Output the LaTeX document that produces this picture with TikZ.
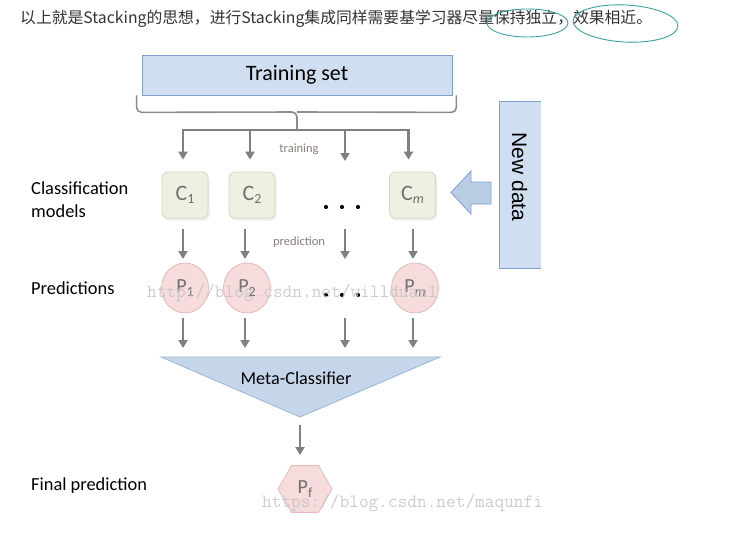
\documentclass[tikz,border=0pt]{standalone}
\usepackage{fontspec}
\setmainfont{Carlito}
\newfontfamily\cjk{Noto Sans CJK SC}
\newfontfamily\arialf{Liberation Sans}
\usetikzlibrary{arrows.meta,shapes.geometric}
\definecolor{bluefill}{HTML}{CFDFF1}
\definecolor{blueline}{HTML}{7F9FCF}
\definecolor{arrfill}{HTML}{B9CDE5}
\definecolor{trifill}{HTML}{C6D6EA}
\definecolor{triline}{HTML}{9AB6DA}
\definecolor{cfill}{HTML}{EEF0E2}
\definecolor{cline}{HTML}{D5D9C0}
\definecolor{pfill}{HTML}{F6DCDC}
\definecolor{pline}{HTML}{E9B9B9}
\definecolor{arrgray}{HTML}{808080}
\definecolor{lblgray}{HTML}{707070}
\definecolor{smallgray}{HTML}{8A7E78}
\definecolor{titlegray}{HTML}{333333}
\definecolor{ringteal}{HTML}{3AA39E}
\definecolor{wmgray}{HTML}{C4C4C4}
\newcommand{\subtxt}[1]{\raisebox{-3.5pt}{\fontsize{14}{14}\selectfont #1}}
\begin{document}
\begin{tikzpicture}[x=1pt,y=-1pt,
  arr/.style={draw=arrgray, line width=2.2pt, -{Triangle[width=9pt,length=8pt]}},
  grayline/.style={draw=arrgray, line width=2pt},
  bracestyle/.style={draw=arrgray!90, line width=1.6pt, rounded corners=5pt},
  bluebox/.style={draw=blueline, fill=bluefill, line width=0.8pt, inner sep=0pt},
  cbox/.style={draw=cline, fill=cfill, rounded corners=6pt, minimum width=46pt, minimum height=46pt, inner sep=0pt, line width=0.8pt, text=lblgray, font=\fontsize{22}{24}\selectfont},
  pcirc/.style={ellipse, draw=pline, fill=pfill, minimum width=47pt, minimum height=50pt, inner sep=0pt, line width=0.8pt, text=lblgray, font=\fontsize{20}{22}\selectfont},
  rowlabel/.style={anchor=west, align=left, inner sep=0pt, font=\fontsize{18.4}{23}\selectfont},
  small/.style={text=smallgray, inner sep=0pt, font=\fontsize{12.5}{14}\selectfont},
  dotn/.style={circle, fill=black, minimum size=4.2pt, inner sep=0pt},
  ring/.style={ellipse, draw=ringteal, line width=0.9pt, inner sep=0pt},
  watermark/.style={text=wmgray, inner sep=0pt, opacity=0.85, font=\ttfamily\fontsize{18.8}{20}\selectfont}
]
\useasboundingbox[fill=white] (0,0) rectangle (747,535);

% title line
\node[anchor=west, inner sep=0pt, text=titlegray, font=\cjk\fontsize{15.8}{18}\selectfont] (title) at (20,19)
  {以上就是Stacking的思想，进行Stacking集成同样需要基学习器尽量保持独立，效果相近。};
\node[ring, minimum width=81pt, minimum height=28pt] (ring1) at (527.5,23) {};
\node[ring, minimum width=105pt, minimum height=37pt, rotate=-3] (ring2) at (625.5,23.5) {};

% training set
\node[bluebox, minimum width=310pt, minimum height=40pt, font=\fontsize{22}{24}\selectfont] (train) at (297,75) {Training set};

% brace
\coordinate (hub) at (297,130);
\draw[bracestyle] ([xshift=-5pt]train.south west) -- ++(0,17) -- (297,112) -- (hub);
\draw[bracestyle] ([xshift=4pt]train.south east) -- ++(0,17) -- (297,112);

% distribution bar
\coordinate (t1) at (183,130);
\coordinate (t2) at (250,130);
\coordinate (t3) at (345,130);
\coordinate (t4) at (408.5,130);
\draw[grayline, line cap=rect] (t1) -- (t4);
\coordinate (t3e) at (345,161);

% classifier boxes (shadows then boxes)
\foreach \x in {185,252,412.5}{
  \fill[black!7, rounded corners=6pt] (\x-22,174) rectangle (\x+24.5,220.5);
}
\node[cbox] (c1) at (185,195) {C\subtxt{1}};
\node[cbox] (c2) at (252,195) {C\subtxt{2}};
\node[cbox] (cm) at (412.5,195) {C\subtxt{\itshape m}};
\node[dotn] (cd1) at (326,207) {};
\node[dotn] (cd2) at (342,207) {};
\node[dotn] (cd3) at (358,207) {};

\draw[arr, shorten >=12pt] (t1) -- (t1 |- c1.north);
\draw[arr, shorten >=12pt] (t2) -- (t2 |- c2.north);
\draw[arr] (t3) -- (t3e);
\draw[arr, shorten >=12pt] (t4) -- (t4 |- cm.north);

\node[small] (trainlbl) at (299,149) {training};
\node[small] (predlbl) at (299,242) {prediction};

% predictions
\node[pcirc] (p1) at (185,288) {P\subtxt{1}};
\node[pcirc] (p2) at (247,288) {P\subtxt{2}};
\node[pcirc] (pm) at (415,288) {P\subtxt{\itshape m}};
\node[dotn] (pd1) at (326,295) {};
\node[dotn] (pd2) at (342,295) {};
\node[dotn] (pd3) at (358,295) {};

\coordinate (m1) at (183,229); \coordinate (m1e) at (183,259);
\coordinate (m2) at (245,229); \coordinate (m2e) at (245,259);
\coordinate (m3) at (345,229); \coordinate (m3e) at (345,259);
\coordinate (m4) at (413,229); \coordinate (m4e) at (413,259);
\draw[arr] (m1) -- (m1e);
\draw[arr] (m2) -- (m2e);
\draw[arr] (m3) -- (m3e);
\draw[arr] (m4) -- (m4e);

\coordinate (l1) at (183,318); \coordinate (l1e) at (183,348);
\coordinate (l2) at (245,318); \coordinate (l2e) at (245,348);
\coordinate (l3) at (345,318); \coordinate (l3e) at (345,348);
\coordinate (l4) at (413,318); \coordinate (l4e) at (413,348);
\draw[arr] (l1) -- (l1e);
\draw[arr] (l2) -- (l2e);
\draw[arr] (l3) -- (l3e);
\draw[arr] (l4) -- (l4e);

% meta classifier
\coordinate (triL) at (161,357);
\coordinate (triR) at (440,357);
\coordinate (triT) at (300,417);
\filldraw[fill=trifill, draw=triline, line width=0.8pt] (triL) -- (triR) -- (triT) -- cycle;
\node[inner sep=0pt, font=\fontsize{18.2}{20}\selectfont] (meta) at (296,378) {Meta-Classifier};

% final prediction
\node[regular polygon, regular polygon sides=6, draw=pline, fill=pfill, minimum size=54pt, inner sep=0pt, line width=0.8pt, text=lblgray, font=\fontsize{20}{22}\selectfont] (pf) at (305,489) {P\subtxt{f}};
\coordinate (fa) at (300,425);
\coordinate (fe) at (300,455);
\draw[arr] (fa) -- (fe);

% row labels
\node[rowlabel] (lblclass) at (31,199.5) {Classification\\models};
\node[rowlabel] (lblpred) at (31,288) {Predictions};
\node[rowlabel] (lblfinal) at (31,486) {Final prediction};

% new data
\node[fill=bluefill, minimum width=41pt, minimum height=166pt, inner sep=0pt] (ndata) at (520,185) {};
\draw[draw=blueline, line width=0.8pt] (ndata.north east) -- (ndata.north west) -- (ndata.south west) -- (ndata.south east);
\node[rotate=-90, inner sep=0pt, font=\arialf\fontsize{21}{22}\selectfont] (ndtext) at (519.5,177) {New data};
\filldraw[fill=arrfill, draw=blueline, line width=0.8pt]
  (491,182) -- (471,182) -- (471,171) -- (451,192.5) -- (471,214) -- (471,204) -- (491,204) -- cycle;

% watermarks
\node[watermark, anchor=west] (wm1) at (147,293) {http://blog.csdn.net/willduan1};
\node[watermark, anchor=west] (wm2) at (262,503) {https://blog.csdn.net/maqunfi};
\end{tikzpicture}
\end{document}
